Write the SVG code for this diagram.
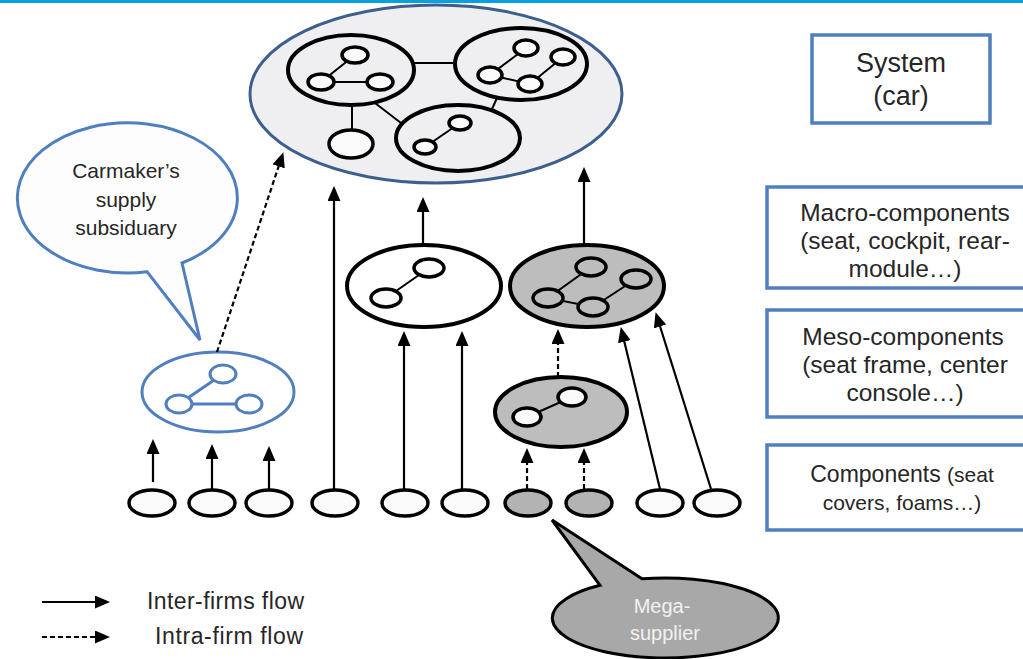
<svg xmlns="http://www.w3.org/2000/svg" width="1023" height="659" viewBox="0 0 1023 659">
<style>
text{font-family:"Liberation Sans",Arial,sans-serif;fill:#262626}
.k{stroke:#000;stroke-width:4;fill:#fff}
.kg{stroke:#000;stroke-width:4;fill:#bdbdbd}
.n{stroke:#000;stroke-width:3.5;fill:#fafafa}
.ng{stroke:#000;stroke-width:3.5;fill:#bdbdbd}
.l{stroke:#000;stroke-width:2;fill:none}
.b{stroke:#4f7fbf;stroke-width:3;fill:#fff}
.bl{stroke:#4f7fbf;stroke-width:3;fill:none}
.box{stroke:#4f7fbf;stroke-width:3.5;fill:#fff}
.c{stroke:#000;stroke-width:3.5;fill:#fafafa}
.cg{stroke:#000;stroke-width:3.5;fill:#b3b3b3}
.a{stroke:#000;stroke-width:2.2;fill:none;marker-end:url(#ah)}
.d{stroke:#000;stroke-width:2.2;fill:none;stroke-dasharray:5 3;marker-end:url(#ah)}
</style>
<defs>
<marker id="ah" markerUnits="userSpaceOnUse" markerWidth="15" markerHeight="13" refX="12" refY="6.5" orient="auto">
<path d="M0,0 L15,6.5 L0,13 z" fill="#000"/>
</marker>
</defs>
<rect x="0" y="0" width="1023" height="3" fill="#0a9fe0"/>

<g id="system-car">
<ellipse cx="436" cy="94" rx="186" ry="89" fill="#efeff2" stroke="#3e5f8e" stroke-width="3"/>
<line class="l" x1="414" y1="63" x2="456" y2="63"/>
<line class="l" x1="352" y1="104" x2="352" y2="131"/>
<line class="l" x1="375" y1="103" x2="401" y2="123"/>
<line class="l" x1="497" y1="98" x2="492" y2="109"/>
<ellipse cx="351" cy="70" rx="63" ry="35" stroke="#000" stroke-width="4" fill="#efeff2"/>
<ellipse cx="521" cy="64" rx="66" ry="36" stroke="#000" stroke-width="4" fill="#efeff2"/>
<ellipse cx="458" cy="138" rx="62" ry="33" stroke="#000" stroke-width="4" fill="#efeff2"/>
<ellipse class="n" cx="351" cy="144" rx="22" ry="14"/>
<path class="l" d="M355,55 L321,82 L380,82"/>
<ellipse class="n" cx="355" cy="55" rx="13" ry="8"/>
<ellipse class="n" cx="321" cy="82" rx="13" ry="8"/>
<ellipse class="n" cx="380" cy="82" rx="13" ry="8"/>
<path class="l" d="M526,48 L490,75 L530,84 L563,57"/>
<ellipse class="n" cx="526" cy="48" rx="12" ry="8"/>
<ellipse class="n" cx="563" cy="57" rx="12" ry="8"/>
<ellipse class="n" cx="490" cy="75" rx="12" ry="8"/>
<ellipse class="n" cx="530" cy="84" rx="12" ry="8"/>
<line class="l" x1="460" y1="123" x2="425" y2="147"/>
<ellipse class="n" cx="460" cy="123" rx="11" ry="7"/>
<ellipse class="n" cx="425" cy="147" rx="11" ry="7"/>
</g>

<g id="macro-white">
<ellipse class="k" cx="424" cy="286" rx="77" ry="41"/>
<line class="l" x1="429" y1="268" x2="386" y2="298"/>
<ellipse class="n" cx="429" cy="268" rx="15" ry="9"/>
<ellipse class="n" cx="386" cy="298" rx="15" ry="9"/>
</g>

<g id="macro-gray">
<ellipse class="kg" cx="587" cy="286" rx="77" ry="41"/>
<path class="l" d="M591,267 L548,298 L593,307 L636,279"/>
<ellipse class="ng" cx="591" cy="267" rx="15" ry="9"/>
<ellipse class="ng" cx="636" cy="279" rx="15" ry="9"/>
<ellipse class="ng" cx="548" cy="298" rx="15" ry="9"/>
<ellipse class="ng" cx="593" cy="307" rx="15" ry="9"/>
</g>

<g id="meso-gray">
<ellipse class="kg" cx="561" cy="412" rx="66" ry="35"/>
<line class="l" x1="572" y1="397" x2="527" y2="417"/>
<ellipse class="n" cx="572" cy="397" rx="14" ry="9"/>
<ellipse class="n" cx="527" cy="417" rx="14" ry="9"/>
</g>

<g id="subsidiary-node">
<ellipse class="b" cx="218" cy="392" rx="76" ry="40"/>
<path class="bl" d="M223,374 L179,404 L249,404"/>
<ellipse class="b" cx="223" cy="374" rx="13" ry="9"/>
<ellipse class="b" cx="179" cy="404" rx="13" ry="9"/>
<ellipse class="b" cx="249" cy="404" rx="13" ry="9"/>
</g>

<g id="components">
<ellipse class="c" cx="152" cy="503" rx="23" ry="13"/>
<ellipse class="c" cx="212" cy="503" rx="23" ry="13"/>
<ellipse class="c" cx="269" cy="503" rx="23" ry="13"/>
<ellipse class="c" cx="335" cy="503" rx="23" ry="13"/>
<ellipse class="c" cx="405" cy="503" rx="23" ry="13"/>
<ellipse class="c" cx="465" cy="503" rx="23" ry="13"/>
<ellipse class="cg" cx="528" cy="503" rx="23" ry="13"/>
<ellipse class="cg" cx="589" cy="503" rx="23" ry="13"/>
<ellipse class="c" cx="660" cy="503" rx="23" ry="13"/>
<ellipse class="c" cx="717" cy="503" rx="23" ry="13"/>
</g>

<g id="connectors">
<line class="a" x1="153" y1="482" x2="153" y2="442"/>
<line class="a" x1="212" y1="489" x2="212" y2="447"/>
<line class="a" x1="269" y1="489" x2="269" y2="449"/>
<line class="a" x1="334" y1="489" x2="334" y2="189"/>
<line class="a" x1="404" y1="489" x2="404" y2="334"/>
<line class="a" x1="462" y1="489" x2="462" y2="334"/>
<line class="d" x1="527" y1="489" x2="527" y2="451"/>
<line class="d" x1="584" y1="489" x2="584" y2="451"/>
<line class="a" x1="660" y1="489" x2="621.5" y2="330"/>
<line class="a" x1="711" y1="489" x2="656.5" y2="315"/>
<line class="d" x1="558" y1="377" x2="558" y2="332"/>
<line class="a" x1="423" y1="245" x2="423" y2="200"/>
<line class="a" x1="584" y1="245" x2="584" y2="170"/>
<line class="d" x1="217" y1="352" x2="282.4" y2="155"/>
</g>

<g id="carmaker-bubble">
<path d="M147,271.7 L200,340 L182,263 A110,75 0 1 0 147,271.7 Z" fill="#fdfdfd" stroke="#4f7fbf" stroke-width="3"/>
<text x="126" y="178" font-size="21" text-anchor="middle">Carmaker’s</text>
<text x="126" y="207" font-size="21" text-anchor="middle">supply</text>
<text x="126" y="235" font-size="21" text-anchor="middle">subsiduary</text>
</g>

<g id="mega-bubble">
<path d="M600,585.3 L552,520 L642,578.8 A113,40 0 1 1 600,585.3 Z" fill="#a8a8a8" stroke="#000" stroke-width="3"/>
<text x="662" y="613" font-size="20" text-anchor="middle" style="fill:#f2f2f2">Mega-</text>
<text x="665" y="640" font-size="20" text-anchor="middle" style="fill:#f2f2f2">supplier</text>
</g>

<g id="box-system">
<rect class="box" x="812" y="35" width="178" height="88"/>
<text x="901" y="72" font-size="27" text-anchor="middle">System</text>
<text x="901" y="105" font-size="27" text-anchor="middle">(car)</text>
</g>
<g id="box-macro">
<rect class="box" x="767" y="187" width="290" height="101"/>
<text x="905" y="221" font-size="24.5" text-anchor="middle">Macro-components</text>
<text x="905" y="249" font-size="24.5" text-anchor="middle">(seat, cockpit, rear-</text>
<text x="905" y="277" font-size="24.5" text-anchor="middle">module…)</text>
</g>
<g id="box-meso">
<rect class="box" x="767" y="310" width="290" height="107"/>
<text x="903" y="345" font-size="24.5" text-anchor="middle">Meso-components</text>
<text x="905" y="373" font-size="24.5" text-anchor="middle">(seat frame, center</text>
<text x="905" y="401" font-size="24.5" text-anchor="middle">console…)</text>
</g>
<g id="box-components">
<rect class="box" x="767" y="445" width="290" height="85"/>
<text x="902" y="482" font-size="23" text-anchor="middle">Components <tspan font-size="21">(seat</tspan></text>
<text x="902" y="510" font-size="21" text-anchor="middle">covers, foams…)</text>
</g>

<g id="legend">
<line class="a" x1="42" y1="602" x2="107" y2="602"/>
<line class="d" x1="42" y1="637" x2="107" y2="637"/>
<text x="147" y="609" font-size="23" textLength="157">Inter-firms flow</text>
<text x="155" y="644" font-size="23" textLength="148">Intra-firm flow</text>
</g>
</svg>
